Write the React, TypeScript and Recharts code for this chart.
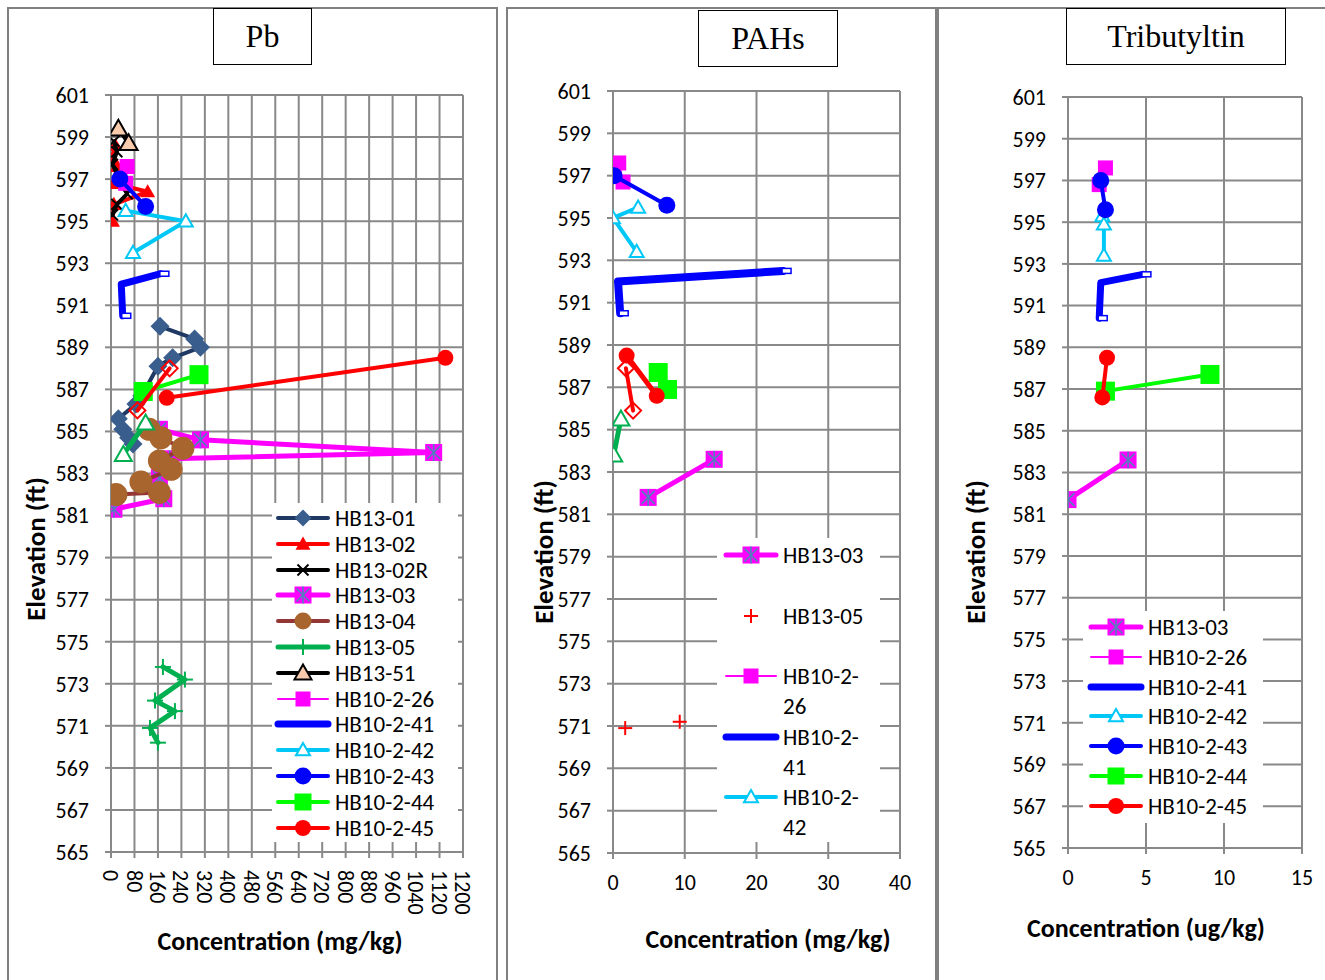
import React from 'react';
import { ScatterChart, Scatter, XAxis, YAxis, CartesianGrid } from 'recharts';

type Pt = { x: number; y: number };

// ---------- axis ticks ----------
const ELEV_TICKS = [565, 567, 569, 571, 573, 575, 577, 579, 581, 583, 585, 587, 589, 591, 593, 595, 597, 599, 601];
const PB_TICKS = [0, 80, 160, 240, 320, 400, 480, 560, 640, 720, 800, 880, 960, 1040, 1120, 1200];
const PAH_TICKS = [0, 10, 20, 30, 40];
const TBT_TICKS = [0, 5, 10, 15];

// ---------- Pb (mg/kg) vs elevation (ft) ----------
const pbHB1301: Pt[] = [
  { x: 167, y: 590.0 }, { x: 285, y: 589.4 }, { x: 305, y: 589.0 }, { x: 210, y: 588.5 },
  { x: 160, y: 588.1 }, { x: 105, y: 586.7 }, { x: 85, y: 586.3 }, { x: 25, y: 585.6 },
  { x: 40, y: 585.1 }, { x: 60, y: 584.7 }, { x: 75, y: 584.4 },
];
const pbHB1302: Pt[] = [
  { x: 15, y: 598.6 }, { x: 5, y: 598.0 }, { x: 20, y: 597.6 }, { x: 10, y: 596.8 },
  { x: 125, y: 596.4 }, { x: 10, y: 595.8 }, { x: 5, y: 595.0 },
];
const pbHB1302R: Pt[] = [
  { x: 10, y: 598.8 }, { x: 20, y: 598.3 }, { x: 5, y: 597.7 }, { x: 55, y: 596.3 },
  { x: 20, y: 595.8 }, { x: 5, y: 595.3 },
];
const pbHB1303: Pt[] = [
  { x: 165, y: 585.1 }, { x: 305, y: 584.6 }, { x: 1100, y: 584.0 }, { x: 200, y: 583.7 },
  { x: 165, y: 582.8 }, { x: 180, y: 581.8 }, { x: 10, y: 581.3 },
];
const pbHB1304: Pt[] = [
  { x: 130, y: 585.1 }, { x: 170, y: 584.7 }, { x: 245, y: 584.2 }, { x: 165, y: 583.6 },
  { x: 205, y: 583.2 }, { x: 102, y: 582.6 }, { x: 165, y: 582.1 }, { x: 17, y: 582.0 },
];
const pbHB1305: Pt[] = [
  { x: 177, y: 573.8 }, { x: 252, y: 573.2 }, { x: 150, y: 572.2 }, { x: 218, y: 571.7 },
  { x: 133, y: 570.9 }, { x: 160, y: 570.2 },
];
const pbHB1351: Pt[] = [{ x: 25, y: 599.4 }, { x: 60, y: 598.7 }];
const pbHB10226: Pt[] = [{ x: 55, y: 597.6 }, { x: 50, y: 596.8 }];
const pbHB10241: Pt[] = [{ x: 170, y: 592.5 }, { x: 35, y: 592.0 }, { x: 40, y: 590.5 }];
const pbHB10242: Pt[] = [{ x: 50, y: 595.5 }, { x: 255, y: 595.0 }, { x: 75, y: 593.5 }];
const pbHB10243: Pt[] = [{ x: 30, y: 597.0 }, { x: 118, y: 595.7 }];
const pbHB10244: Pt[] = [{ x: 110, y: 586.9 }, { x: 300, y: 587.7 }];
const pbHB10245: Pt[] = [{ x: 190, y: 586.6 }, { x: 1140, y: 588.5 }];
const pbRedDiamonds: Pt[] = [{ x: 200, y: 588.0 }, { x: 90, y: 586.0 }];
const pbGreenTriangles: Pt[] = [{ x: 118, y: 585.4 }, { x: 42, y: 583.9 }];

// ---------- PAHs (mg/kg) ----------
const pahHB1303: Pt[] = [{ x: 14.1, y: 583.6 }, { x: 4.9, y: 581.8 }];
const pahHB1305: Pt[] = [{ x: 1.7, y: 570.9 }, { x: 9.3, y: 571.2 }];
const pahHB10226: Pt[] = [{ x: 0.8, y: 597.6 }, { x: 1.4, y: 596.7 }];
const pahHB10241: Pt[] = [{ x: 23.7, y: 592.5 }, { x: 0.7, y: 592.0 }, { x: 1.0, y: 590.5 }];
const pahHB10242: Pt[] = [{ x: 3.5, y: 595.5 }, { x: 0.0, y: 595.0 }, { x: 3.3, y: 593.4 }];
const pahHB10243: Pt[] = [{ x: 0.15, y: 597.0 }, { x: 7.5, y: 595.6 }];
const pahHB10244: Pt[] = [{ x: 6.3, y: 587.7 }, { x: 7.6, y: 586.9 }];
const pahHB10245: Pt[] = [{ x: 1.9, y: 588.5 }, { x: 6.1, y: 586.6 }];
const pahRedDiamonds: Pt[] = [{ x: 1.8, y: 587.9 }, { x: 2.8, y: 585.9 }];
const pahGreenTriangles: Pt[] = [{ x: 1.1, y: 585.5 }, { x: 0.1, y: 583.8 }];

// ---------- Tributyltin (ug/kg) ----------
const tbtHB1303: Pt[] = [{ x: 3.85, y: 583.6 }, { x: 0, y: 581.7 }];
const tbtHB10226: Pt[] = [{ x: 2.4, y: 597.6 }, { x: 2.0, y: 596.8 }];
const tbtHB10241: Pt[] = [{ x: 4.8, y: 592.5 }, { x: 2.1, y: 592.1 }, { x: 2.0, y: 590.4 }];
const tbtHB10242: Pt[] = [{ x: 2.2, y: 595.3 }, { x: 2.3, y: 594.9 }, { x: 2.3, y: 593.4 }];
const tbtHB10243: Pt[] = [{ x: 2.1, y: 597.0 }, { x: 2.4, y: 595.6 }];
const tbtHB10244: Pt[] = [{ x: 2.4, y: 586.9 }, { x: 9.1, y: 587.7 }];
const tbtHB10245: Pt[] = [{ x: 2.5, y: 588.5 }, { x: 2.2, y: 586.6 }];

// ---------- styling ----------
const FONT = 'Carlito, Lato, "Noto Sans", sans-serif';
const SERIF = '"Liberation Serif", "DejaVu Serif", serif';
const GRID = '#898989';
const TICK_FONT = 22;
const LEGEND_FONT = 23;

type Kind =
  | 'diamond' | 'triangle' | 'cross' | 'starSquare' | 'circle' | 'plus'
  | 'square' | 'openTriangle' | 'openDiamond' | 'cap' | 'none';

interface Style {
  stroke: string;
  width: number; // 0 = no line
  kind: Kind;
  color: string;
  size: number;
  edge?: string;
}

const S: Record<string, Style> = {
  hb1301: { stroke: '#1F3864', width: 4, kind: 'diamond', color: '#395E8D', size: 19 },
  hb1302: { stroke: '#FF0000', width: 4, kind: 'triangle', color: '#FF0000', size: 15 },
  hb1302R: { stroke: '#000000', width: 4, kind: 'cross', color: '#000000', size: 11 },
  hb1303: { stroke: '#FF00FF', width: 5, kind: 'starSquare', color: '#FF00FF', size: 17 },
  hb1304: { stroke: '#943634', width: 4, kind: 'circle', color: '#A8652E', size: 23 },
  hb1305: { stroke: '#00B050', width: 5, kind: 'plus', color: '#00B050', size: 16 },
  hb1351: { stroke: '#000000', width: 4, kind: 'triangle', color: '#F8CBAD', size: 18, edge: '#000000' },
  hb10226: { stroke: '#FF00FF', width: 2, kind: 'square', color: '#FF00FF', size: 15 },
  hb10241: { stroke: '#0000FF', width: 7, kind: 'cap', color: '#0000FF', size: 0 },
  hb10242: { stroke: '#00C8F6', width: 4, kind: 'openTriangle', color: '#00C8F6', size: 14 },
  hb10243: { stroke: '#0000FF', width: 4, kind: 'circle', color: '#0000FF', size: 17 },
  hb10244: { stroke: '#00FF00', width: 4, kind: 'square', color: '#00FF00', size: 19 },
  hb10245: { stroke: '#FF0000', width: 4, kind: 'circle', color: '#FF0000', size: 16 },
  redDiamond: { stroke: '#FF0000', width: 4, kind: 'openDiamond', color: '#FF0000', size: 16 },
  greenTriangle: { stroke: '#00B050', width: 5, kind: 'openTriangle', color: '#00B050', size: 17 },
  pahPlus: { stroke: '#FF0000', width: 0, kind: 'plus', color: '#FF0000', size: 14 },
};

function Mark({ st, cx, cy, legend }: { st: Style; cx: number; cy: number; legend?: boolean }) {
  const sz = legend ? Math.min(st.size, 17) : st.size;
  const h = sz / 2;
  switch (st.kind) {
    case 'diamond':
      return <polygon points={`${cx},${cy - h} ${cx + h},${cy} ${cx},${cy + h} ${cx - h},${cy}`} fill={st.color} />;
    case 'triangle':
      return (
        <polygon
          points={`${cx},${cy - h} ${cx + h},${cy + h * 0.75} ${cx - h},${cy + h * 0.75}`}
          fill={st.color}
          stroke={st.edge ?? 'none'}
          strokeWidth={st.edge ? 2 : 0}
        />
      );
    case 'openTriangle':
      return (
        <polygon
          points={`${cx},${cy - h} ${cx + h},${cy + h * 0.75} ${cx - h},${cy + h * 0.75}`}
          fill="#FFFFFF"
          stroke={st.color}
          strokeWidth={2}
        />
      );
    case 'openDiamond':
      return (
        <polygon
          points={`${cx},${cy - h} ${cx + h},${cy} ${cx},${cy + h} ${cx - h},${cy}`}
          fill="#FFFFFF"
          fillOpacity={0}
          stroke={st.color}
          strokeWidth={2}
        />
      );
    case 'cross':
      return (
        <g stroke={st.color} strokeWidth={2}>
          <line x1={cx - h} y1={cy - h} x2={cx + h} y2={cy + h} />
          <line x1={cx - h} y1={cy + h} x2={cx + h} y2={cy - h} />
        </g>
      );
    case 'plus':
      return (
        <g stroke={st.color} strokeWidth={2}>
          <line x1={cx - h} y1={cy} x2={cx + h} y2={cy} />
          <line x1={cx} y1={cy - h} x2={cx} y2={cy + h} />
        </g>
      );
    case 'starSquare':
      return (
        <g>
          <rect x={cx - h} y={cy - h} width={sz} height={sz} fill={st.color} />
          <g stroke="#4F81BD" strokeWidth={1.6}>
            <line x1={cx - h + 2} y1={cy - h + 2} x2={cx + h - 2} y2={cy + h - 2} />
            <line x1={cx - h + 2} y1={cy + h - 2} x2={cx + h - 2} y2={cy - h + 2} />
            <line x1={cx} y1={cy - h} x2={cx} y2={cy + h} />
          </g>
        </g>
      );
    case 'circle':
      return <circle cx={cx} cy={cy} r={h} fill={st.color} />;
    case 'square':
      return <rect x={cx - h} y={cy - h} width={sz} height={sz} fill={st.color} />;
    default:
      return <g />;
  }
}

interface SeriesDef {
  key: string;
  data: Pt[];
  st: Style;
}

function seriesShape(def: SeriesDef) {
  return (p: any) => {
    const cx = p.cx as number;
    const cy = p.cy as number;
    if (def.st.kind === 'cap') {
      const first = def.data[0];
      const last = def.data[def.data.length - 1];
      const v = p.payload ?? {};
      const isEnd = (v.x === first.x && v.y === first.y) || (v.x === last.x && v.y === last.y);
      if (!isEnd) return <g />;
      return <rect x={cx - 1} y={cy - 2.5} width={9} height={5} fill="#FFFFFF" stroke={def.st.color} strokeWidth={1.5} />;
    }
    return <Mark st={def.st} cx={cx} cy={cy} />;
  };
}

const RotatedTick = (p: any) => (
  <text
    x={p.x}
    y={p.y}
    transform={`rotate(90, ${p.x}, ${p.y})`}
    dy="0.36em"
    textAnchor="start"
    fontSize={TICK_FONT}
    fontFamily={FONT}
    fill="#000"
  >
    {p.payload.value}
  </text>
);

interface PanelProps {
  left: number;
  width: number;
  plotLeft: number;
  plotRight: number;
  plotTop: number;
  plotBottom: number;
  xTicks: number[];
  rotate?: boolean;
  series: SeriesDef[];
}

function PanelChart({ left, width, plotLeft, plotRight, plotTop, plotBottom, xTicks, rotate, series }: PanelProps) {
  const yW = 60;
  const xH = 40;
  const margin = {
    top: plotTop,
    right: left + width - plotRight,
    left: plotLeft - left - yW,
    bottom: 980 - plotBottom - xH,
  };
  const xMax = xTicks[xTicks.length - 1];
  return (
    <div style={{ position: 'absolute', left, top: 0 }}>
      <ScatterChart width={width} height={980} margin={margin}>
        <CartesianGrid stroke={GRID} strokeWidth={2} />
        <XAxis
          type="number"
          dataKey="x"
          domain={[0, xMax]}
          ticks={xTicks}
          interval={0}
          allowDataOverflow
          height={xH}
          axisLine={{ stroke: GRID, strokeWidth: 2 }}
          tickLine={{ stroke: GRID, strokeWidth: 2 }}
          tickSize={6}
          tickMargin={rotate ? 12 : 15}
          tick={rotate ? RotatedTick : { fontSize: TICK_FONT, fill: '#000', fontFamily: FONT }}
        />
        <YAxis
          type="number"
          dataKey="y"
          domain={[565, 601]}
          ticks={ELEV_TICKS}
          interval={0}
          allowDataOverflow
          width={yW}
          axisLine={{ stroke: GRID, strokeWidth: 2 }}
          tickLine={{ stroke: GRID, strokeWidth: 2 }}
          tickSize={6}
          tickMargin={16}
          tick={{ fontSize: TICK_FONT, fill: '#000', fontFamily: FONT }}
        />
        {series.map((s) => (
          <Scatter
            key={s.key}
            name={s.key}
            data={s.data}
            fill={s.st.color}
            line={s.st.width > 0 ? { stroke: s.st.stroke, strokeWidth: s.st.width, strokeLinejoin: 'round', strokeLinecap: 'round' } : false}
            lineType="joint"
            shape={seriesShape(s)}
            isAnimationActive={false}
          />
        ))}
      </ScatterChart>
    </div>
  );
}

interface LegendItem {
  st: Style;
  lines: string[];
}

function Swatch({ st, h }: { st: Style; h: number }) {
  const cy = h / 2;
  return (
    <svg width={58} height={h} style={{ display: 'block', flex: 'none' }}>
      {st.width > 0 && (
        <line x1={4} y1={cy} x2={54} y2={cy} stroke={st.stroke} strokeWidth={st.width} strokeLinecap="round" />
      )}
      <Mark st={st} cx={29} cy={cy} legend />
    </svg>
  );
}

function LegendBox({
  left, top, width, height, rowH, lineH, padTop, padLeft, items,
}: {
  left: number; top: number; width: number; height: number; rowH: number; lineH: number;
  padTop: number; padLeft: number; items: LegendItem[];
}) {
  return (
    <div style={{ position: 'absolute', left, top, width, height, background: '#FFFFFF' }}>
      <div style={{ position: 'absolute', left: padLeft, top: padTop }}>
        {items.map((it, i) => (
          <div key={i} style={{ display: 'flex', alignItems: 'flex-start', height: rowH }}>
            <Swatch st={it.st} h={lineH} />
            <div style={{ marginLeft: 3, fontFamily: FONT, fontSize: LEGEND_FONT, lineHeight: `${lineH}px`, color: '#000', whiteSpace: 'nowrap' }}>
              {it.lines.map((l, j) => (
                <div key={j}>{l}</div>
              ))}
            </div>
          </div>
        ))}
      </div>
    </div>
  );
}

function TitleBox({ left, top, width, text }: { left: number; top: number; width: number; text: string }) {
  return (
    <div
      style={{
        position: 'absolute', left, top, width, height: 57, border: '1.5px solid #000', boxSizing: 'border-box',
        display: 'flex', alignItems: 'center', justifyContent: 'center', fontFamily: SERIF, fontSize: 32, background: '#fff',
      }}
    >
      {text}
    </div>
  );
}

function AxisTitle({ cx, cy, text, vertical }: { cx: number; cy: number; text: string; vertical?: boolean }) {
  return (
    <div
      style={{
        position: 'absolute', left: cx, top: cy, transform: `translate(-50%, -50%)${vertical ? ' rotate(-90deg)' : ''}`,
        fontFamily: FONT, fontWeight: 700, fontSize: vertical ? 27 : 26, whiteSpace: 'nowrap', color: '#000',
      }}
    >
      {text}
    </div>
  );
}

function Frame({ left, width }: { left: number; width: number }) {
  return (
    <div
      style={{
        position: 'absolute', left, top: 7, width, height: 990, boxSizing: 'border-box',
        borderLeft: '2px solid #808080', borderRight: '2px solid #808080', borderTop: '2px solid #808080',
      }}
    />
  );
}

const pbSeries: SeriesDef[] = [
  { key: 'HB13-01', data: pbHB1301, st: S.hb1301 },
  { key: 'HB13-02', data: pbHB1302, st: S.hb1302 },
  { key: 'HB13-02R', data: pbHB1302R, st: S.hb1302R },
  { key: 'HB13-03', data: pbHB1303, st: S.hb1303 },
  { key: 'HB13-04', data: pbHB1304, st: S.hb1304 },
  { key: 'HB13-05', data: pbHB1305, st: S.hb1305 },
  { key: 'HB13-51', data: pbHB1351, st: S.hb1351 },
  { key: 'HB10-2-26', data: pbHB10226, st: S.hb10226 },
  { key: 'HB10-2-41', data: pbHB10241, st: S.hb10241 },
  { key: 'HB10-2-42', data: pbHB10242, st: S.hb10242 },
  { key: 'HB10-2-43', data: pbHB10243, st: S.hb10243 },
  { key: 'HB10-2-44', data: pbHB10244, st: S.hb10244 },
  { key: 'HB10-2-45', data: pbHB10245, st: S.hb10245 },
  { key: 'redDiamonds', data: pbRedDiamonds, st: S.redDiamond },
  { key: 'greenTriangles', data: pbGreenTriangles, st: S.greenTriangle },
];

const pahSeries: SeriesDef[] = [
  { key: 'HB13-03', data: pahHB1303, st: S.hb1303 },
  { key: 'HB13-05', data: pahHB1305, st: S.pahPlus },
  { key: 'HB10-2-26', data: pahHB10226, st: S.hb10226 },
  { key: 'HB10-2-41', data: pahHB10241, st: { ...S.hb10241, width: 8 } },
  { key: 'HB10-2-42', data: pahHB10242, st: S.hb10242 },
  { key: 'HB10-2-43', data: pahHB10243, st: S.hb10243 },
  { key: 'HB10-2-44', data: pahHB10244, st: S.hb10244 },
  { key: 'HB10-2-45', data: pahHB10245, st: { ...S.hb10245, width: 5 } },
  { key: 'redDiamonds', data: pahRedDiamonds, st: S.redDiamond },
  { key: 'greenTriangles', data: pahGreenTriangles, st: S.greenTriangle },
];

const tbtSeries: SeriesDef[] = [
  { key: 'HB13-03', data: tbtHB1303, st: S.hb1303 },
  { key: 'HB10-2-26', data: tbtHB10226, st: S.hb10226 },
  { key: 'HB10-2-41', data: tbtHB10241, st: S.hb10241 },
  { key: 'HB10-2-42', data: tbtHB10242, st: S.hb10242 },
  { key: 'HB10-2-43', data: tbtHB10243, st: S.hb10243 },
  { key: 'HB10-2-44', data: tbtHB10244, st: S.hb10244 },
  { key: 'HB10-2-45', data: tbtHB10245, st: S.hb10245 },
];

const pbLegend: LegendItem[] = pbSeries.slice(0, 13).map((s) => ({ st: s.st, lines: [s.key] }));
const pahLegend: LegendItem[] = [
  { st: S.hb1303, lines: ['HB13-03'] },
  { st: S.pahPlus, lines: ['HB13-05'] },
  { st: S.hb10226, lines: ['HB10-2-', '26'] },
  { st: S.hb10241, lines: ['HB10-2-', '41'] },
  { st: S.hb10242, lines: ['HB10-2-', '42'] },
];
const tbtLegend: LegendItem[] = tbtSeries.map((s) => ({ st: s.st, lines: [s.key] }));

export default function App() {
  return (
    <div style={{ position: 'absolute', left: 0, top: 0, width: 1325, height: 980, background: '#fff', overflow: 'hidden' }}>
      <Frame left={7} width={491} />
      <Frame left={506} width={431} />
      <Frame left={937} width={400} />

      <PanelChart left={0} width={498} plotLeft={111} plotRight={463} plotTop={95} plotBottom={852} xTicks={PB_TICKS} rotate series={pbSeries} />
      <PanelChart left={500} width={436} plotLeft={613} plotRight={900} plotTop={91} plotBottom={853} xTicks={PAH_TICKS} series={pahSeries} />
      <PanelChart left={938} width={387} plotLeft={1068} plotRight={1302} plotTop={97} plotBottom={848} xTicks={TBT_TICKS} series={tbtSeries} />

      <LegendBox left={272} top={503} width={186} height={339} rowH={25.8} lineH={26} padTop={2} padLeft={2} items={pbLegend} />
      <LegendBox left={717} top={538} width={163} height={304} rowH={60.6} lineH={30} padTop={2} padLeft={5} items={pahLegend} />
      <LegendBox left={1083} top={611} width={180} height={212} rowH={29.8} lineH={30} padTop={1} padLeft={4} items={tbtLegend} />

      <TitleBox left={213} top={8} width={99} text="Pb" />
      <TitleBox left={698} top={10} width={140} text="PAHs" />
      <TitleBox left={1066} top={8} width={220} text="Tributyltin" />

      <AxisTitle cx={35} cy={549} text="Elevation (ft)" vertical />
      <AxisTitle cx={543} cy={552} text="Elevation (ft)" vertical />
      <AxisTitle cx={975} cy={552} text="Elevation (ft)" vertical />

      <AxisTitle cx={280} cy={941} text="Concentration (mg/kg)" />
      <AxisTitle cx={768} cy={939} text="Concentration (mg/kg)" />
      <AxisTitle cx={1146} cy={928} text="Concentration (ug/kg)" />
    </div>
  );
}
